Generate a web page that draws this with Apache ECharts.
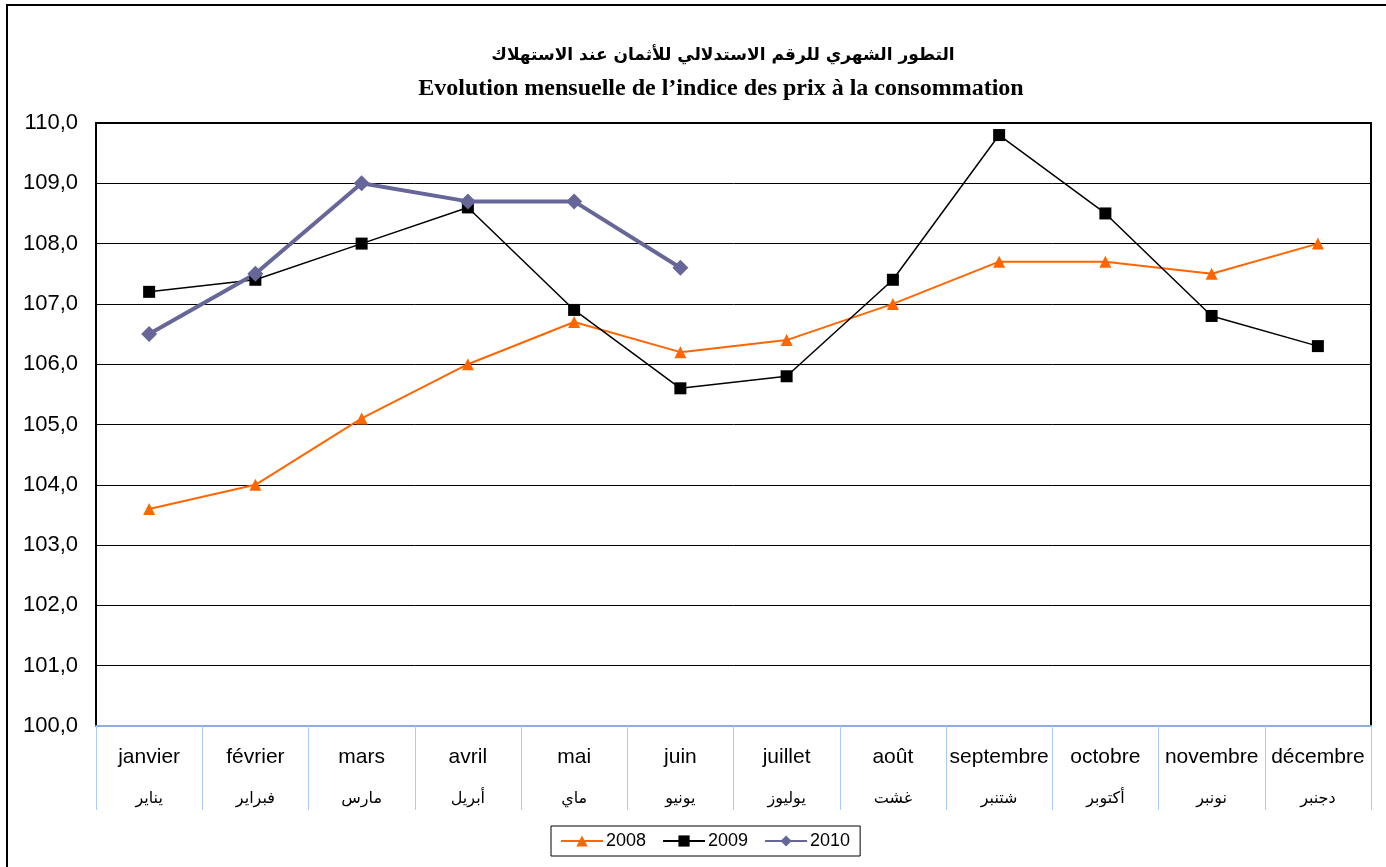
<!DOCTYPE html>
<html>
<head>
<meta charset="utf-8">
<script src="https://cdn.jsdelivr.net/npm/echarts@6/dist/echarts.min.js"></script>
<style>html,body{margin:0;padding:0;background:#fff}#c{width:1386px;height:867px}</style>
</head>
<body>
<div id="c"></div>
<script>
const monthsFr = ['janvier','février','mars','avril','mai','juin','juillet','août','septembre','octobre','novembre','décembre'];
const monthsAr = ['يناير','فبراير','مارس','أبريل','ماي','يونيو','يوليوز','غشت','شتنبر','أكتوبر','نونبر','دجنبر'];
const s2008 = [103.6,104.0,105.1,106.0,106.7,106.2,106.4,107.0,107.7,107.7,107.5,108.0];
const s2009 = [107.2,107.4,108.0,108.6,106.9,105.6,105.8,107.4,109.8,108.5,106.8,106.3];
const s2010 = [106.5,107.5,109.0,108.7,108.7,107.6];
const titleAr = 'التطور الشهري للرقم الاستدلالي للأثمان عند الاستهلاك';
const titleFr = 'Evolution mensuelle de l’indice des prix à la consommation';

const chart = echarts.init(document.getElementById('c'));
chart.setOption({
  animation:false,
  backgroundColor:'#fff',
  graphic:[
    {type:'rect',shape:{x:7,y:5,width:1420,height:900},style:{fill:'none',stroke:'#000',lineWidth:2},z:-1},
    {type:'text',x:723,y:47,style:{text:titleAr,font:'bold 17px "DejaVu Sans", "Noto Sans", sans-serif',textAlign:'center',fill:'#000'}},
    {type:'text',x:721,y:77,style:{text:titleFr,font:'bold 24px "Liberation Serif", serif',textAlign:'center',fill:'#000'}}
  ],
  grid:{left:96,right:15,top:123,bottom:141,show:true,borderColor:'#000',borderWidth:2,backgroundColor:'#fff'},
  legend:{
    left:551,top:826,
    data:['2008','2009','2010'],
    borderColor:'#000',borderWidth:1,padding:[6,10,6,9],
    itemWidth:42,itemHeight:14,itemGap:16,
    textStyle:{fontFamily:'Liberation Sans, Arial',fontSize:18,color:'#000',padding:[0,0,0,-2]}
  },
  xAxis:{
    type:'category',data:monthsFr,boundaryGap:true,
    axisLine:{lineStyle:{color:'#8DB0D8',width:2}},
    axisTick:{show:true,interval:0,length:84,lineStyle:{color:'#A9CCF5',width:1}},
    axisLabel:{
      interval:0,margin:18,
      formatter:function(v,i){return '{fr|'+v+'}\n{ar|'+monthsAr[i]+'}';},
      rich:{
        fr:{fontFamily:'Liberation Sans, Arial',fontSize:21,color:'#000',lineHeight:26},
        ar:{fontFamily:'"DejaVu Sans", "Noto Sans", sans-serif',fontSize:16,color:'#000',lineHeight:58}
      }
    },
    splitLine:{show:false}
  },
  yAxis:{
    type:'value',min:100,max:110,interval:1,
    axisLine:{show:true,lineStyle:{color:'#000',width:2}},
    axisTick:{show:false},
    axisLabel:{margin:18,fontFamily:'Liberation Sans, Arial',fontSize:22,color:'#000',
      formatter:function(v){return v.toFixed(1).replace('.',',');}},
    splitLine:{lineStyle:{color:'#000',width:1}}
  },
  series:[
    {name:'2008',type:'line',data:s2008,symbol:'triangle',symbolSize:12,
     lineStyle:{color:'#FF6600',width:2},itemStyle:{color:'#FF6600'}},
    {name:'2009',type:'line',data:s2009,symbol:'rect',symbolSize:12,
     lineStyle:{color:'#000',width:1.5},itemStyle:{color:'#000'}},
    {name:'2010',type:'line',data:s2010,symbol:'diamond',symbolSize:16,
     lineStyle:{color:'#666699',width:4},itemStyle:{color:'#666699'}}
  ]
});
</script>
</body>
</html>
